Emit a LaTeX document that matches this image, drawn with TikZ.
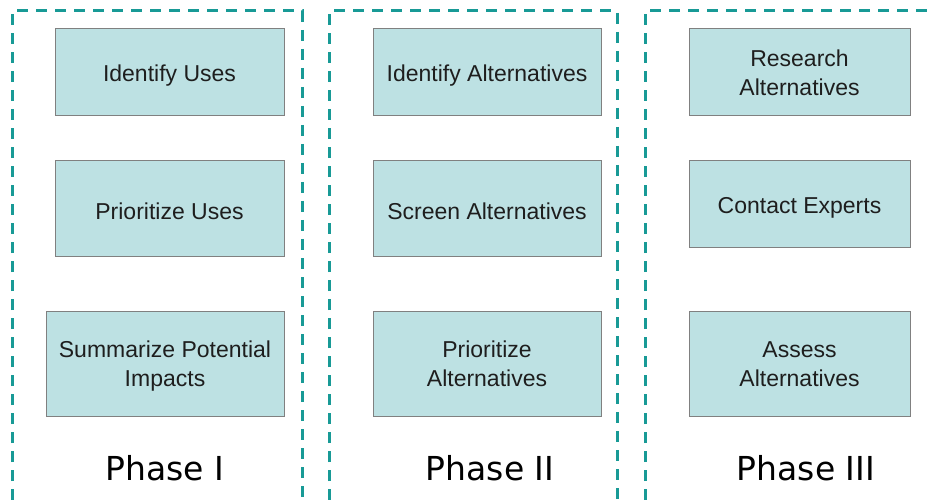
\documentclass[tikz,border=0pt]{standalone}
\usepackage{fontspec}
\setmainfont{Liberation Sans}
\newfontfamily\phasefont{DejaVu Sans}
\definecolor{boxfill}{HTML}{BDE1E3}
\definecolor{boxline}{HTML}{808080}
\definecolor{dashc}{HTML}{189A96}
\definecolor{txt}{HTML}{1E1E1E}
\newcommand{\lowtext}[1]{\raisebox{-3pt}[\height][\depth]{#1}}
\newcommand{\twolines}[2]{\raisebox{-3pt}[\height][\depth]{\begin{tabular}{@{}c@{}}#1\\#2\end{tabular}}}
\begin{document}
\begin{tikzpicture}[x=1pt,y=-1pt,
  stepbox/.style={draw=boxline, line width=1pt, fill=boxfill, align=center,
    font=\fontsize{23}{29}\selectfont, text=txt, inner sep=0pt},
  frame/.style={draw=dashc, line width=3pt, dash pattern=on 11pt off 8pt},
  phaselabel/.style={font=\phasefont\fontsize{33}{36}\selectfont, anchor=base}]
\useasboundingbox (0,0) rectangle (930,500);
% frames
\draw[frame] (12,500) -- (12,11) -- (302,11) -- (302,500);
\draw[frame] (329,500) -- (329,11) -- (617,11) -- (617,500);
\draw[frame] (645,500) -- (645,11) -- (930,11);
% Phase I
\node[stepbox, minimum width=229pt, minimum height=87pt] (iu) at (169.5,72.5) {\lowtext{Identify Uses}};
\node[stepbox, minimum width=229pt, minimum height=95pt] (pu) at (169.5,208.5) {\lowtext{Prioritize Uses}};
\node[stepbox, minimum width=238pt, minimum height=105pt] (sp) at (165,363.5) {\twolines{Summarize Potential}{Impacts}};
% Phase II
\node[stepbox, minimum width=228pt, minimum height=87pt] (ia) at (487,72.5) {\lowtext{Identify Alternatives}};
\node[stepbox, minimum width=228pt, minimum height=95pt] (sa) at (487,208.5) {\lowtext{Screen Alternatives}};
\node[stepbox, minimum width=228pt, minimum height=105pt] (pa) at (487,363.5) {\twolines{Prioritize}{Alternatives}};
% Phase III
\node[stepbox, minimum width=221pt, minimum height=87pt] (ra) at (799.5,72.5) {\twolines{Research}{Alternatives}};
\node[stepbox, minimum width=221pt, minimum height=87pt] (ce) at (799.5,204.5) {\lowtext{Contact Experts}};
\node[stepbox, minimum width=221pt, minimum height=105pt] (aa) at (799.5,363.5) {\twolines{Assess}{Alternatives}};
% labels
\node[phaselabel] (p1) at (165,480) {Phase I};
\node[phaselabel] (p2) at (490,480) {Phase II};
\node[phaselabel] (p3) at (806,480) {Phase III};
\end{tikzpicture}
\end{document}
